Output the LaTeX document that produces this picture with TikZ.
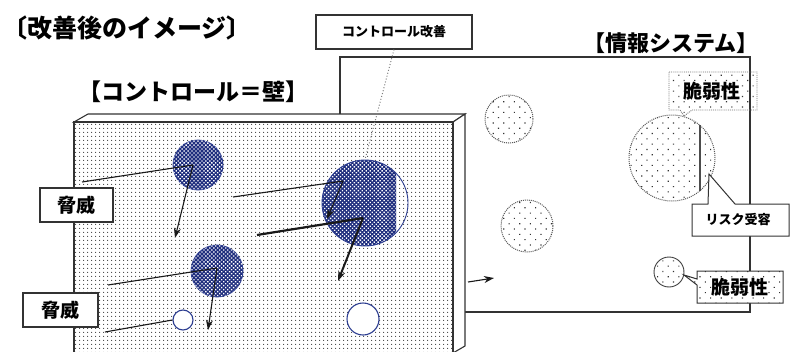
\documentclass[tikz,border=0pt]{standalone}
\usepackage{fontspec}
\setmainfont{Noto Sans CJK JP}
\usetikzlibrary{patterns,patterns.meta,arrows.meta}
\definecolor{navyc}{RGB}{30,45,125}
\definecolor{navyl}{RGB}{45,62,145}
\begin{document}
\begin{tikzpicture}[x=1pt,y=-1pt,
  wallpat/.style={pattern={Dots[distance=4pt,radius=0.75pt]},pattern color=black!75},
  sparse/.style={pattern={Dots[distance=7.5pt,radius=0.8pt,angle=45]},pattern color=black!80},
  bluepat/.style={pattern={Dots[distance=2.8pt,radius=0.95pt,angle=45]},pattern color=white},
  frame/.style={draw=black!80,line width=1.1pt},
  bigl/.style={font=\fontsize{23}{24}\selectfont\bfseries,inner sep=0},
  lbl/.style={font=\fontsize{19}{20}\selectfont\bfseries,inner sep=0},
  smalll/.style={font=\fontsize{13}{14}\selectfont\bfseries,inner sep=0},
  thr/.style={draw=black!90,line width=1.1pt},
  thrarrow/.style={thr,-{Stealth[length=10pt,width=7pt]}},
  icirc/.style={circle,inner sep=0,draw=black!65,densely dotted,line width=1pt},
  bcirc/.style={circle,inner sep=0,fill=navyc,draw=navyl,line width=0.8pt,postaction={bluepat}},
  wcirc/.style={circle,inner sep=0,fill=white,draw=navyl,line width=1.1pt},
]
\useasboundingbox (0,0) rectangle (790,351);
\clip (0,0) rectangle (790,351);

% title
\node[font=\fontsize{25}{26}\selectfont\bfseries,anchor=west,inner sep=0] (title) at (2,28) {〔改善後のイメージ〕};

% information system
\node[frame,fill=white,minimum width=410pt,minimum height=255pt,inner sep=0] (info) at (545,184.5) {};
\node[bigl,font=\fontsize{22}{24}\selectfont\bfseries] (infolbl) at (671,43) {【情報システム】};

% control improvement box
\node[frame,fill=white,minimum width=156pt,minimum height=34pt,smalll] (ctrl) at (394,32) {コントロール改善};

% wall
\draw[frame,fill=white] (74,122) -- (88,114) -- (465,114) -- (453,122) -- cycle;
\draw[frame,fill=white] (453,122) -- (465,114) -- (465,346) -- (453,353) -- cycle;
\fill[white] (74,122) rectangle (453,360);
\path[wallpat] (74,122) rectangle (453,360);
\draw[frame] (74,360) -- (74,122) -- (453,122) -- (453,360);
\node[bigl] (walllbl) at (193,92) {【コントロール＝壁】};

% blue circles
\node[bcirc,minimum size=50pt] (b1) at (198,165) {};
\node[bcirc,minimum size=52pt] (b2) at (217,271) {};
\begin{scope}
  \clip (320,150) rectangle (396,250);
  \fill[navyc] (365,203) circle[radius=43];
  \path[bluepat] (365,203) circle[radius=43];
\end{scope}
\node[circle,inner sep=0,draw=navyl,line width=0.9pt,minimum size=86pt] (b3) at (365,203) {};
\node[wcirc,minimum size=20pt] (w1) at (183,320) {};
\node[wcirc,minimum size=32pt] (w2) at (363,319) {};

% dotted link
\draw[black!50,dotted,line width=1pt] (ctrl.south) -- (b3.north);

% threats
\coordinate (t1a) at (82,182);  \coordinate (t1b) at (193,165); \coordinate (t1c) at (175,238);
\coordinate (t2a) at (233,197); \coordinate (t2b) at (343,181); \coordinate (t2c) at (327,219);
\coordinate (t3a) at (257,235); \coordinate (t3b) at (363,218); \coordinate (t3c) at (338,281);
\coordinate (t4a) at (108,285); \coordinate (t4b) at (217,268); \coordinate (t4c) at (208,330);
\coordinate (t5a) at (105,332);
\draw[thr] (t1a) -- (t1b); \draw[thrarrow] (t1b) -- (t1c);
\draw[thr] (t2a) -- (t2b); \draw[thrarrow] (t2b) -- (t2c);
\draw[thr,line width=2.2pt] (t3a) -- (t3b); \draw[thrarrow,line width=2pt] (t3b) -- (t3c);
\draw[thr] (t4a) -- (t4b); \draw[thrarrow] (t4b) -- (t4c);
\draw[thr] (t5a) -- (w1.west);

% threat labels
\node[frame,fill=white,minimum width=73pt,minimum height=34pt,lbl] (th1) at (76.5,205) {脅威};
\node[frame,fill=white,minimum width=75pt,minimum height=34pt,lbl] (th2) at (60.5,310) {脅威};

% arrow out of the wall
\coordinate (wo) at (468,282);
\draw[thrarrow] (wo) -- (494,278);

% information system circles
\node[icirc,minimum size=48pt,postaction={sparse}] (i1) at (509,119) {};
\node[icirc,minimum size=52pt,postaction={sparse}] (i2) at (527,226) {};
\node[icirc,minimum size=86pt,postaction={sparse}] (i3) at (672,158) {};
\draw[black!70,line width=1.2pt] (700,125.4) -- (700,190.6);
\node[circle,inner sep=0,draw=black!75,line width=0.9pt,minimum size=30pt,postaction={sparse}] (i4) at (669,272) {};

% callouts
\path[sparse] (669,72) -- (757,72) -- (757,110) -- (692,110) -- (684,116) -- (680,110) -- (669,110) -- cycle;
\draw[black!55,densely dotted,line width=0.9pt] (669,72) -- (757,72) -- (757,110) -- (692,110) -- (684,116) -- (680,110) -- (669,110) -- cycle;
\node[lbl] (v1) at (712,91) {脆弱性};

\draw[frame,line width=1pt,fill=white] (692,204) -- (708,204) -- (709,174) -- (735,204) -- (789,204) -- (789,236) -- (692,236) -- cycle;
\node[smalll] (risk) at (738,220) {リスク受容};

\draw[frame,line width=1pt,fill=white,postaction={sparse}] (697,271) -- (783,271) -- (783,303) -- (697,303) -- (697,285) -- (684,275) -- (697,279) -- cycle;
\node[lbl] (v2) at (740,287) {脆弱性};
\end{tikzpicture}
\end{document}
